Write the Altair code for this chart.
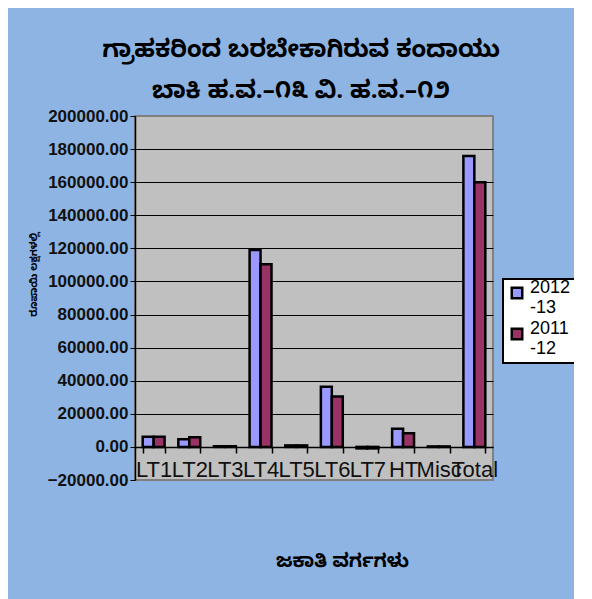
import altair as alt
import pandas as pd

categories = ["LT1", "LT2", "LT3", "LT4", "LT5", "LT6", "LT7", "HT", "Misc", "Total"]
series_names = ["2012-13", "2011-12"]
values_2012_13 = [6200, 4600, 400, 119000, 900, 36400, -900, 10900, 300, 175800]
values_2011_12 = [6200, 5800, 400, 110400, 900, 30400, -900, 8300, 300, 160000]
y_ticks = [-20000, 0, 20000, 40000, 60000, 80000, 100000, 120000, 140000, 160000, 180000, 200000]

title_line1 = "ಗ್ರಾಹಕರಿಂದ ಬರಬೇಕಾಗಿರುವ ಕಂದಾಯು"
title_line2 = "ಬಾಕಿ ಹ.ವ.–೧೩ ವಿ. ಹ.ವ.–೧೨"
x_title = "ಜಕಾತಿ ವರ್ಗಗಳು"
y_title = "ರೂಪಾಯಿ ಲಕ್ಷಗಳಲ್ಲಿ"

rows = []
for c, a, b in zip(categories, values_2012_13, values_2011_12):
    rows.append({"cat": c, "series": series_names[0], "value": a})
    rows.append({"cat": c, "series": series_names[1], "value": b})
df = pd.DataFrame(rows)

KFONT = "Noto Sans Kannada, Noto Sans, DejaVu Sans"

bars = alt.Chart(df).mark_bar(stroke="black", strokeWidth=2.5).encode(
    x=alt.X("cat:N", sort=categories,
            scale=alt.Scale(paddingInner=0.385, paddingOuter=0.216),
            axis=alt.Axis(title=x_title, orient="bottom", offset=-33,
                          labelAngle=0, labelFontSize=22, labelFont="Liberation Sans",
                          labelColor="#111111", labelPadding=6, labelOverlap=False,
                          tickBand="extent", tickSize=6, tickColor="black", tickWidth=1.5,
                          domainColor="black", domainWidth=1.5,
                          titleFont=KFONT, titleFontSize=19, titleFontWeight="bold",
                          titleColor="black", titleX=207, titleY=104, titleAlign="center",
                          titleBaseline="top")),
    xOffset=alt.XOffset("series:N", sort=series_names),
    y=alt.Y("value:Q",
            scale=alt.Scale(domain=[-20000, 200000], nice=False, zero=False),
            axis=alt.Axis(title=y_title, values=y_ticks, format=".2f",
                          labelFontSize=17, labelFontWeight="bold", labelFont="Liberation Sans",
                          labelColor="#111111", labelPadding=2,
                          tickSize=5, tickColor="black", tickWidth=1,
                          domainColor="black", domainWidth=1.5,
                          grid=True,
                          gridColor=alt.condition("datum.value > 190000 || datum.value < -10000",
                                                  alt.value("#808080"), alt.value("black")),
                          gridWidth=1,
                          titleFont=KFONT, titleFontSize=10, titleFontWeight="bold",
                          titleColor="black", titleX=-102, titleY=158, titleAngle=-90,
                          titleAlign="center", titleBaseline="middle")),
    fill=alt.Fill("series:N", sort=series_names,
                  scale=alt.Scale(domain=series_names, range=["#9999FF", "#993366"]),
                  legend=alt.Legend(title=None, orient="none", legendX=368, legendY=163,
                                    labelExpr="[slice(datum.label,0,4), slice(datum.label,4)]",
                                    labelFontSize=18, labelFont="Liberation Sans",
                                    labelColor="black", labelBaseline="alphabetic",
                                    symbolType="square", symbolSize=110,
                                    symbolStrokeColor="black", symbolStrokeWidth=2.5,
                                    symbolOffset=0,
                                    fillColor="white", strokeColor="black",
                                    padding=5, rowPadding=3)),
)

chart = bars.properties(
    width=358, height=364,
    autosize=alt.AutoSizeParams(type="none"),
    padding={"left": 127, "top": 108, "right": 81, "bottom": 119},
    background="#8DB4E2",
    title=alt.TitleParams(title_line1, subtitle=title_line2, anchor="middle", frame="group",
                          dx=-13, offset=4, font=KFONT, fontSize=24, fontWeight="bold",
                          color="black", subtitleFont=KFONT, subtitleFontSize=24,
                          subtitleFontWeight="bold", subtitleColor="black", subtitlePadding=17),
).configure_view(
    fill="#C0C0C0", stroke="#808080", strokeWidth=2
).configure_legend(strokeWidth=2)

chart.save("out.html", embed_options={"renderer": "svg", "actions": False})
